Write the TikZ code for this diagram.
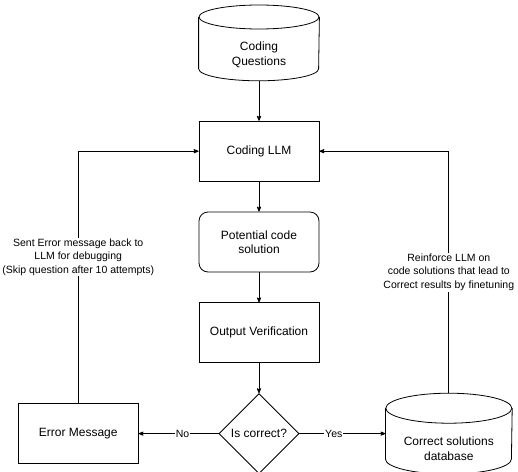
\documentclass[tikz,border=0pt]{standalone}
\usepackage{fontspec}
\setmainfont{Liberation Sans}
\usetikzlibrary{arrows,calc,positioning,shapes.geometric}

% outline of a storage node: #1 node, #2 half width, #3 radius of the end ellipse
\newcommand{\storeshape}[3]{%
  \draw ($(#1.north west)+(0,#3)$) -- ($(#1.south west)+(0,#3)$) arc[start angle=180, end angle=360, x radius=#2, y radius=#3] -- ($(#1.north east)+(0,#3)$);
  \draw ($(#1.north)+(0,#3)$) ellipse [x radius=#2, y radius=#3];
  \coordinate (#1 top) at ($(#1.north)+(0,2*#3)$);
}

\begin{document}
\begin{tikzpicture}[x=1pt, y=1pt,
block/.style = {draw, fill=white, rectangle, minimum height=60pt, minimum width=120pt, align=center, font=\fontsize{12}{14.4}\selectfont},
rblock/.style = {block, rounded corners=9pt},
decision/.style = {draw, fill=white, diamond, minimum width=80pt, minimum height=80pt, inner sep=0pt, font=\fontsize{12}{14.4}\selectfont},
store/.style = {rectangle, minimum width=120pt, minimum height=51pt, inner sep=0pt, align=center, font=\fontsize{12}{14.4}\selectfont},
lbl/.style = {fill=white, inner sep=1pt, align=center, font=\fontsize{10.5}{13.4}\selectfont},
line width=0.8pt,
node distance = 30pt,
>=stealth'
]

    \useasboundingbox (0,0) rectangle (518,-471);

    \node [store, anchor=north] (ques) at (259,-29) {Coding\\Questions};
    \node [block, below=40pt of ques] (llm) {Coding LLM};
    \node [rblock, below=of llm] (sol) {Potential code\\solution};
    \node [block, below=of sol] (verif) {Output Verification};
    \node [decision, below=of verif] (check) {Is correct?};
    \node [block, left=80pt of check] (err) {Error Message};
    \node [store, right=86pt of check, yshift=-15pt, minimum width=126pt, minimum height=50pt] (db) {Correct solutions\\database};

    \storeshape{ques}{60pt}{12pt}
    \storeshape{db}{63pt}{15pt}

    \draw [->] (ques) -- (llm);
    \draw [->] (llm) -- (sol);
    \draw [->] (sol) -- (verif);
    \draw [->] (verif) -- (check);

    \draw [->] (check) -- node[lbl, pos=0.45]{No} (err);
    \draw [->] (check) -- node[lbl, pos=0.4]{Yes} (check -| db.west);

    \draw [->] (err) |- node[lbl, pos=0.29]{Sent Error message back to\\LLM for debugging\\(Skip question after 10 attempts)} (llm);
    \draw [->] (db top) |- node[lbl, pos=0.25]{Reinforce LLM on\\code solutions that lead to\\Correct results by finetuning} (llm);

\end{tikzpicture}
\end{document}
